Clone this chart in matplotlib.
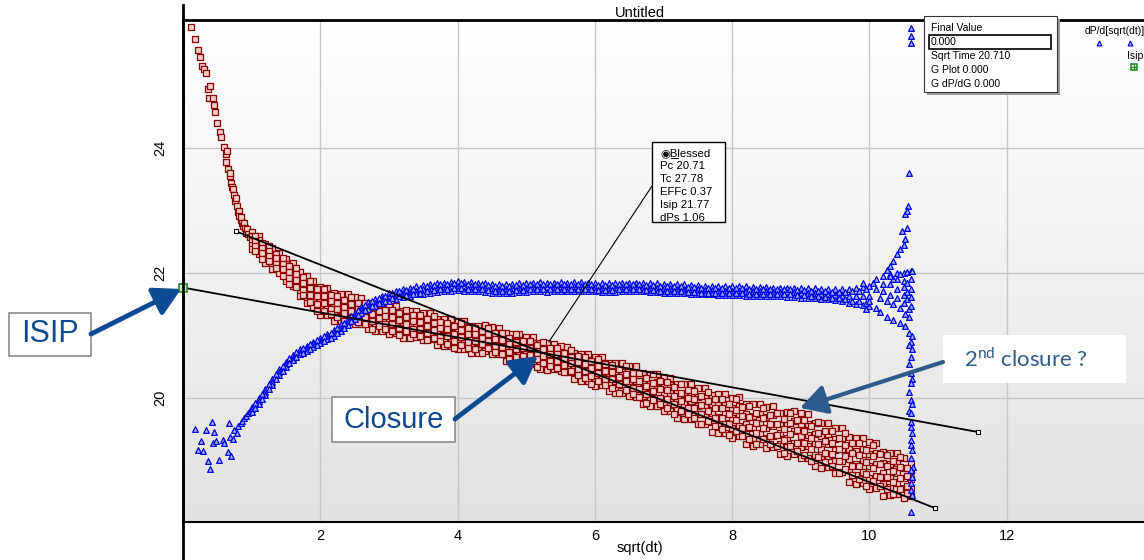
import numpy as np
import matplotlib
matplotlib.use("Agg")
import matplotlib.pyplot as plt
from matplotlib.colors import LinearSegmentedColormap
from matplotlib.patches import Rectangle, FancyArrowPatch
from matplotlib.lines import Line2D

plt.rcParams['font.family'] = ['Liberation Sans', 'DejaVu Sans']
plt.rcParams['mathtext.fontset'] = 'custom'
plt.rcParams['mathtext.rm'] = 'Lato'

#------------------------ data ------------------------
# pressure (red squares): steep early part
red_head_x = [0.12, 0.17, 0.22, 0.25, 0.28, 0.30, 0.33, 0.36, 0.39, 0.38, 0.44, 0.45, 0.46, 0.49,
              0.54, 0.55, 0.60, 0.62, 0.64, 0.63, 0.66, 0.68, 0.69, 0.70, 0.72, 0.73, 0.74, 0.76,
              0.77, 0.78, 0.80, 0.81, 0.82, 0.84, 0.85, 0.86, 0.88, 0.89, 0.90, 0.92, 0.93, 0.95, 0.97]
red_head_y = [25.94, 25.74, 25.57, 25.46, 25.31, 25.26, 25.20, 24.94, 25.00, 24.80, 24.80, 24.69, 24.58, 24.40,
              24.26, 24.18, 24.02, 23.90, 23.95, 23.78, 23.66, 23.55, 23.60, 23.45, 23.38, 23.35, 23.25, 23.15,
              23.20, 23.08, 22.98, 23.00, 22.92, 22.85, 22.90, 22.80, 22.75, 22.80, 22.72, 22.65, 22.70, 22.62, 22.58]

# pressure (red squares): main band, one column of readings per sqrt(dt) value
red_band_x = [1.0, 1.1, 1.2, 1.3, 1.4, 1.5, 1.6, 1.7, 1.8, 1.9,
              2.0, 2.1, 2.2, 2.3, 2.4, 2.5, 2.6, 2.7, 2.8, 2.9,
              3.0, 3.1, 3.2, 3.3, 3.4, 3.5, 3.6, 3.7, 3.8, 3.9,
              4.0, 4.1, 4.2, 4.3, 4.4, 4.5, 4.6, 4.7, 4.8, 4.9,
              5.0, 5.1, 5.2, 5.3, 5.4, 5.5, 5.6, 5.7, 5.8, 5.9,
              6.0, 6.1, 6.2, 6.3, 6.4, 6.5, 6.6, 6.7, 6.8, 6.9,
              7.0, 7.1, 7.2, 7.3, 7.4, 7.5, 7.6, 7.7, 7.8, 7.9,
              8.0, 8.1, 8.2, 8.3, 8.4, 8.5, 8.6, 8.7, 8.8, 8.9,
              9.0, 9.1, 9.2, 9.3, 9.4, 9.5, 9.6, 9.7, 9.8, 9.9,
              10.0, 10.1, 10.2, 10.3, 10.4, 10.5, 10.6]
red_band_y = [
    [22.66, 22.59, 22.52, 22.45, 22.38], [22.60, 22.53, 22.45, 22.38, 22.30], [22.47, 22.39, 22.32, 22.24, 22.16],
    [22.40, 22.30, 22.20, 22.13, 22.07], [22.33, 22.25, 22.17, 22.08, 22.00], [22.23, 22.14, 22.05, 21.96, 21.87],
    [22.16, 22.08, 21.98, 21.89, 21.79], [22.02, 21.92, 21.83, 21.73, 21.63], [21.95, 21.83, 21.70, 21.61, 21.53],
    [21.88, 21.77, 21.67, 21.57, 21.46], [21.78, 21.66, 21.55, 21.44, 21.33], [21.77, 21.67, 21.56, 21.45, 21.33],
    [21.68, 21.56, 21.47, 21.36, 21.24], [21.67, 21.55, 21.41, 21.31, 21.23], [21.66, 21.55, 21.45, 21.35, 21.24],
    [21.62, 21.51, 21.40, 21.29, 21.18], [21.61, 21.52, 21.41, 21.30, 21.19], [21.52, 21.41, 21.32, 21.21, 21.10],
    [21.52, 21.40, 21.26, 21.16, 21.08], [21.52, 21.40, 21.31, 21.19, 21.08], [21.48, 21.36, 21.25, 21.14, 21.03],
    [21.48, 21.38, 21.27, 21.16, 21.04], [21.39, 21.28, 21.19, 21.08, 20.96], [21.40, 21.28, 21.14, 21.04, 20.96],
    [21.40, 21.29, 21.19, 21.09, 20.98], [21.37, 21.26, 21.15, 21.04, 20.93], [21.36, 21.27, 21.16, 21.05, 20.94],
    [21.27, 21.16, 21.07, 20.96, 20.85], [21.27, 21.15, 21.01, 20.91, 20.83], [21.27, 21.15, 21.05, 20.94, 20.83],
    [21.23, 21.11, 21.00, 20.89, 20.78], [21.23, 21.13, 21.02, 20.91, 20.79], [21.15, 21.04, 20.95, 20.83, 20.72],
    [21.16, 21.04, 20.90, 20.80, 20.72], [21.17, 21.06, 20.96, 20.86, 20.75], [21.14, 21.03, 20.92, 20.81, 20.70],
    [21.13, 21.04, 20.93, 20.82, 20.71], [21.04, 20.92, 20.83, 20.71, 20.60], [21.03, 20.91, 20.77, 20.67, 20.58],
    [21.02, 20.91, 20.81, 20.69, 20.58], [20.98, 20.87, 20.75, 20.63, 20.52], [20.98, 20.88, 20.77, 20.66, 20.54],
    [20.88, 20.77, 20.68, 20.57, 20.46], [20.88, 20.76, 20.63, 20.54, 20.45], [20.87, 20.77, 20.67, 20.57, 20.47],
    [20.83, 20.73, 20.63, 20.53, 20.43], [20.82, 20.73, 20.62, 20.52, 20.42], [20.73, 20.62, 20.53, 20.42, 20.31],
    [20.71, 20.59, 20.46, 20.37, 20.28], [20.71, 20.60, 20.50, 20.38, 20.27], [20.66, 20.55, 20.43, 20.31, 20.20],
    [20.66, 20.56, 20.44, 20.32, 20.21], [20.57, 20.45, 20.34, 20.23, 20.11], [20.56, 20.42, 20.28, 20.17, 20.08],
    [20.56, 20.44, 20.33, 20.21, 20.08], [20.51, 20.39, 20.27, 20.15, 20.03], [20.51, 20.40, 20.27, 20.15, 20.02],
    [20.40, 20.27, 20.16, 20.03, 19.91], [20.39, 20.25, 20.09, 19.98, 19.88], [20.39, 20.26, 20.14, 20.01, 19.87],
    [20.34, 20.21, 20.07, 19.94, 19.80], [20.33, 20.21, 20.08, 19.94, 19.80], [20.22, 20.08, 19.96, 19.82, 19.68],
    [20.23, 20.07, 19.90, 19.77, 19.66], [20.22, 20.08, 19.95, 19.81, 19.67], [20.17, 20.02, 19.88, 19.74, 19.59],
    [20.17, 20.04, 19.89, 19.74, 19.59], [20.05, 19.90, 19.77, 19.62, 19.46], [20.06, 19.89, 19.70, 19.56, 19.44],
    [20.06, 19.91, 19.77, 19.61, 19.45], [20.01, 19.85, 19.69, 19.53, 19.37], [20.02, 19.88, 19.71, 19.55, 19.39],
    [19.90, 19.74, 19.59, 19.43, 19.27], [19.90, 19.72, 19.52, 19.37, 19.24], [19.91, 19.74, 19.60, 19.43, 19.27],
    [19.86, 19.70, 19.53, 19.36, 19.20], [19.88, 19.73, 19.56, 19.39, 19.22], [19.77, 19.59, 19.44, 19.27, 19.10],
    [19.78, 19.59, 19.37, 19.22, 19.08], [19.80, 19.63, 19.47, 19.29, 19.11], [19.76, 19.58, 19.40, 19.22, 19.04],
    [19.75, 19.59, 19.41, 19.23, 19.05], [19.61, 19.43, 19.27, 19.09, 18.91], [19.60, 19.40, 19.18, 19.02, 18.88],
    [19.60, 19.42, 19.26, 19.08, 18.90], [19.53, 19.35, 19.17, 18.99, 18.81], [19.52, 19.36, 19.18, 18.99, 18.82],
    [19.38, 19.19, 19.03, 18.85, 18.66], [19.37, 19.16, 18.94, 18.77, 18.63], [19.37, 19.18, 19.01, 18.82, 18.64],
    [19.30, 19.11, 18.92, 18.73, 18.54], [19.29, 19.13, 18.94, 18.76, 18.57], [19.14, 18.96, 18.80, 18.62, 18.44],
    [19.13, 18.94, 18.73, 18.58, 18.45], [19.12, 18.96, 18.81, 18.64, 18.47], [19.05, 18.89, 18.73, 18.57, 18.41],
    [18.95, 18.83, 18.70, 18.56, 18.43]]

# pressure: readings in between the columns above
red_mid_x = [1.05, 1.15, 1.25, 1.35, 1.45, 1.55, 1.65, 1.75, 1.85, 1.95,
             2.05, 2.15, 2.25, 2.35, 2.45, 2.55, 2.65, 2.75, 2.85, 2.95,
             3.05, 3.15, 3.25, 3.35, 3.45, 3.55, 3.65, 3.75, 3.85, 3.95,
             4.05, 4.15, 4.25, 4.35, 4.45, 4.55, 4.65, 4.75, 4.85, 4.95,
             5.05, 5.15, 5.25, 5.35, 5.45, 5.55, 5.65, 5.75, 5.85, 5.95,
             6.05, 6.15, 6.25, 6.35, 6.45, 6.55, 6.65, 6.75, 6.85, 6.95,
             7.05, 7.15, 7.25, 7.35, 7.45, 7.55, 7.65, 7.75, 7.85, 7.95,
             8.05, 8.15, 8.25, 8.35, 8.45, 8.55, 8.65, 8.75, 8.85, 8.95,
             9.05, 9.15, 9.25, 9.35, 9.45, 9.55, 9.65, 9.75, 9.85, 9.95,
             10.05, 10.15, 10.25, 10.35, 10.45, 10.55]
red_mid_y = [
    [22.59, 22.51, 22.44, 22.36], [22.48, 22.40, 22.32, 22.23], [22.44, 22.36, 22.28, 22.19], [22.31, 22.24, 22.14, 22.08],
    [22.24, 22.15, 22.06, 21.96], [22.11, 22.02, 21.93, 21.83], [22.08, 21.99, 21.89, 21.78], [21.94, 21.85, 21.73, 21.65],
    [21.87, 21.76, 21.65, 21.54], [21.74, 21.63, 21.51, 21.39], [21.74, 21.63, 21.52, 21.39], [21.65, 21.55, 21.43, 21.34],
    [21.64, 21.53, 21.42, 21.30], [21.57, 21.46, 21.36, 21.23], [21.62, 21.51, 21.40, 21.28], [21.53, 21.43, 21.31, 21.22],
    [21.52, 21.41, 21.30, 21.18], [21.46, 21.35, 21.23, 21.11], [21.50, 21.39, 21.28, 21.15], [21.41, 21.31, 21.19, 21.10],
    [21.41, 21.30, 21.19, 21.07], [21.36, 21.25, 21.13, 21.01], [21.41, 21.30, 21.19, 21.07], [21.33, 21.23, 21.11, 21.02],
    [21.33, 21.22, 21.11, 20.99], [21.26, 21.15, 21.05, 20.93], [21.31, 21.20, 21.09, 20.97], [21.22, 21.12, 21.00, 20.91],
    [21.21, 21.10, 20.99, 20.87], [21.15, 21.03, 20.92, 20.80], [21.20, 21.09, 20.98, 20.85], [21.12, 21.02, 20.90, 20.81],
    [21.13, 21.02, 20.91, 20.79], [21.07, 20.96, 20.86, 20.73], [21.13, 21.03, 20.92, 20.80], [21.05, 20.95, 20.83, 20.74],
    [21.04, 20.93, 20.82, 20.70], [20.97, 20.86, 20.74, 20.62], [21.02, 20.90, 20.79, 20.66], [20.92, 20.81, 20.68, 20.59],
    [20.92, 20.80, 20.69, 20.56], [20.85, 20.73, 20.62, 20.50], [20.90, 20.79, 20.68, 20.56], [20.80, 20.71, 20.59, 20.51],
    [20.80, 20.70, 20.60, 20.48], [20.73, 20.63, 20.53, 20.42], [20.77, 20.66, 20.56, 20.44], [20.67, 20.58, 20.46, 20.37],
    [20.66, 20.55, 20.44, 20.32], [20.59, 20.48, 20.36, 20.23], [20.63, 20.51, 20.40, 20.27], [20.54, 20.43, 20.30, 20.21],
    [20.53, 20.42, 20.30, 20.17], [20.46, 20.34, 20.22, 20.08], [20.51, 20.39, 20.27, 20.13], [20.41, 20.31, 20.17, 20.07],
    [20.41, 20.28, 20.15, 20.02], [20.33, 20.20, 20.07, 19.93], [20.38, 20.25, 20.12, 19.97], [20.27, 20.15, 20.00, 19.90],
    [20.26, 20.13, 19.99, 19.84], [20.18, 20.04, 19.90, 19.75], [20.23, 20.09, 19.95, 19.80], [20.13, 20.00, 19.85, 19.74],
    [20.12, 19.98, 19.84, 19.68], [20.04, 19.89, 19.75, 19.59], [20.10, 19.95, 19.80, 19.64], [19.98, 19.85, 19.68, 19.56],
    [19.99, 19.84, 19.68, 19.51], [19.91, 19.75, 19.59, 19.41], [19.98, 19.81, 19.65, 19.47], [19.86, 19.71, 19.53, 19.40],
    [19.87, 19.70, 19.54, 19.35], [19.77, 19.61, 19.44, 19.26], [19.85, 19.69, 19.52, 19.34], [19.73, 19.59, 19.40, 19.27],
    [19.76, 19.59, 19.41, 19.23], [19.67, 19.50, 19.33, 19.13], [19.77, 19.60, 19.42, 19.23], [19.65, 19.49, 19.29, 19.15],
    [19.65, 19.47, 19.29, 19.09], [19.55, 19.37, 19.19, 18.99], [19.62, 19.44, 19.26, 19.06], [19.48, 19.32, 19.12, 18.98],
    [19.47, 19.29, 19.11, 18.91], [19.36, 19.18, 19.00, 18.80], [19.44, 19.25, 19.07, 18.87], [19.29, 19.12, 18.92, 18.77],
    [19.28, 19.09, 18.91, 18.70], [19.17, 18.98, 18.79, 18.59], [19.25, 19.07, 18.88, 18.67], [19.10, 18.94, 18.74, 18.60],
    [19.09, 18.92, 18.74, 18.55], [19.00, 18.83, 18.66, 18.47], [19.06, 18.90, 18.73, 18.55], [18.89, 18.76, 18.59, 18.48]]

# derivative dP/d[sqrt(dt)] (blue triangles): noisy start
blue_head_x = [0.17, 0.22, 0.26, 0.29, 0.33, 0.36, 0.39, 0.42, 0.44, 0.45, 0.48, 0.52, 0.58, 0.60,
               0.65, 0.67, 0.68, 0.70, 0.73, 0.74, 0.78, 0.80, 0.84, 0.86, 0.89, 0.92, 0.95, 0.97]
blue_head_y = [19.50, 19.17, 19.31, 19.15, 19.49, 18.99, 18.86, 19.62, 19.28, 19.46, 19.31, 19.01, 19.33, 19.28,
               19.14, 19.60, 19.38, 19.07, 19.34, 19.49, 19.45, 19.55, 19.60, 19.64, 19.68, 19.72, 19.76, 19.80]

# derivative: main curve, readings per column (same sqrt(dt) columns as the pressure band)
blue_band_y = [
    [19.86, 19.82, 19.78], [20.00, 19.95, 19.91], [20.14, 20.10, 20.05], [20.30, 20.26, 20.21], [20.46, 20.42, 20.37],
    [20.58, 20.54, 20.50], [20.69, 20.65, 20.61], [20.78, 20.74, 20.70], [20.84, 20.80, 20.76], [20.90, 20.86, 20.82],
    [20.96, 20.92, 20.88], [21.02, 20.98, 20.94], [21.09, 21.05, 21.00], [21.18, 21.13, 21.08], [21.27, 21.22, 21.17],
    [21.37, 21.32, 21.27], [21.46, 21.41, 21.36], [21.54, 21.48, 21.42], [21.59, 21.53, 21.47], [21.64, 21.58, 21.52],
    [21.68, 21.62, 21.56], [21.71, 21.65, 21.59], [21.74, 21.68, 21.62], [21.77, 21.70, 21.64], [21.79, 21.72, 21.66],
    [21.81, 21.74, 21.67], [21.83, 21.76, 21.69], [21.84, 21.77, 21.70], [21.85, 21.78, 21.71], [21.86, 21.79, 21.72],
    [21.87, 21.80, 21.73], [21.86, 21.79, 21.72], [21.86, 21.79, 21.71], [21.85, 21.78, 21.71], [21.84, 21.77, 21.70],
    [21.83, 21.76, 21.69], [21.82, 21.75, 21.68], [21.82, 21.75, 21.68], [21.83, 21.76, 21.69], [21.84, 21.77, 21.70],
    [21.85, 21.77, 21.70], [21.85, 21.78, 21.71], [21.86, 21.78, 21.71], [21.85, 21.78, 21.70], [21.85, 21.78, 21.71],
    [21.86, 21.78, 21.71], [21.85, 21.78, 21.71], [21.86, 21.79, 21.72], [21.86, 21.79, 21.72], [21.85, 21.78, 21.71],
    [21.85, 21.78, 21.71], [21.84, 21.77, 21.70], [21.84, 21.77, 21.70], [21.84, 21.77, 21.70], [21.85, 21.78, 21.71],
    [21.85, 21.78, 21.71], [21.85, 21.78, 21.71], [21.85, 21.78, 21.71], [21.84, 21.77, 21.70], [21.84, 21.77, 21.70],
    [21.83, 21.76, 21.69], [21.83, 21.76, 21.69], [21.82, 21.75, 21.68], [21.82, 21.75, 21.68], [21.81, 21.74, 21.67],
    [21.81, 21.74, 21.67], [21.80, 21.73, 21.66], [21.80, 21.73, 21.66], [21.79, 21.72, 21.65], [21.79, 21.72, 21.65],
    [21.79, 21.72, 21.65], [21.79, 21.72, 21.65], [21.79, 21.72, 21.64], [21.78, 21.71, 21.64], [21.78, 21.71, 21.64],
    [21.78, 21.71, 21.63], [21.77, 21.70, 21.63], [21.77, 21.70, 21.63], [21.77, 21.70, 21.62], [21.77, 21.70, 21.62],
    [21.77, 21.69, 21.61], [21.76, 21.69, 21.61], [21.76, 21.68, 21.60], [21.75, 21.67, 21.59], [21.74, 21.66, 21.58],
    [21.74, 21.65, 21.57], [21.74, 21.64, 21.55], [21.75, 21.64, 21.53], [21.76, 21.63, 21.51], [21.78, 21.63, 21.49],
    [21.80, 21.64, 21.47]]

# derivative: readings in between (same x as red_mid_x up to 9.95)
blue_mid_y = [
    [19.92, 19.85], [20.07, 19.99], [20.22, 20.14], [20.38, 20.30], [20.52, 20.44], [20.64, 20.56], [20.74, 20.66],
    [20.81, 20.73], [20.87, 20.79], [20.93, 20.85], [20.99, 20.91], [21.05, 20.97], [21.13, 21.05], [21.21, 21.13],
    [21.31, 21.23], [21.41, 21.33], [21.49, 21.41], [21.55, 21.47], [21.60, 21.52], [21.64, 21.56], [21.68, 21.60],
    [21.71, 21.63], [21.73, 21.65], [21.75, 21.67], [21.77, 21.69], [21.79, 21.71], [21.81, 21.73], [21.82, 21.74],
    [21.83, 21.75], [21.84, 21.76], [21.84, 21.76], [21.83, 21.75], [21.83, 21.74], [21.82, 21.74], [21.81, 21.73],
    [21.80, 21.72], [21.79, 21.71], [21.80, 21.72], [21.81, 21.73], [21.81, 21.73], [21.82, 21.74], [21.82, 21.74],
    [21.82, 21.74], [21.82, 21.74], [21.82, 21.74], [21.82, 21.74], [21.83, 21.75], [21.83, 21.75], [21.82, 21.74],
    [21.82, 21.74], [21.81, 21.73], [21.81, 21.73], [21.81, 21.73], [21.82, 21.74], [21.82, 21.74], [21.82, 21.74],
    [21.82, 21.74], [21.81, 21.73], [21.81, 21.73], [21.80, 21.72], [21.80, 21.72], [21.79, 21.71], [21.79, 21.71],
    [21.78, 21.70], [21.78, 21.70], [21.77, 21.69], [21.77, 21.69], [21.76, 21.68], [21.76, 21.68], [21.76, 21.68],
    [21.76, 21.68], [21.76, 21.68], [21.75, 21.67], [21.75, 21.67], [21.75, 21.67], [21.74, 21.66], [21.74, 21.66],
    [21.74, 21.66], [21.74, 21.66], [21.73, 21.65], [21.73, 21.65], [21.72, 21.64], [21.71, 21.63], [21.71, 21.62],
    [21.70, 21.61], [21.70, 21.60], [21.70, 21.58], [21.71, 21.56], [21.72, 21.55], [21.74, 21.53]]

# derivative: fan and spike at the end of the test
blue_tail_x = [10.05, 10.1, 10.1, 10.15, 10.15, 10.2, 10.2, 10.25, 10.25, 10.3, 10.3, 10.3, 10.35, 10.35,
               10.4, 10.4, 10.4, 10.4, 10.45, 10.45, 10.5, 10.5, 10.5, 10.5, 10.5, 10.52, 10.52, 10.55,
               10.55, 10.55, 10.55, 10.57, 10.57, 10.6, 10.6, 10.6, 10.6, 10.6, 10.62, 10.45, 10.35, 9.95,
               9.9, 10.25, 10.3, 10.35, 10.4, 10.45, 10.5, 10.52, 10.48, 10.55, 10.52, 10.56, 10.55, 10.58,
               10.3, 10.2, 10.1, 10.0,
               10.58, 10.62, 10.6, 10.57, 10.62, 10.6, 10.57, 10.6, 10.62, 10.6, 10.58, 10.6, 10.62, 10.58,
               10.6, 10.61, 10.6, 10.62, 10.6, 10.61, 10.62, 10.6, 10.63, 10.6, 10.62, 10.61, 10.6, 10.62,
               10.6, 10.6, 10.6, 10.6]
blue_tail_y = [21.85, 21.45, 21.90, 21.60, 21.38, 21.95, 21.72, 21.55, 21.30, 21.98, 21.82, 21.65, 21.50, 21.25,
               22.00, 21.90, 21.75, 21.60, 21.45, 21.20, 22.00, 21.88, 21.78, 21.65, 21.52, 21.35, 21.15, 22.02,
               21.85, 21.70, 21.58, 21.42, 21.30, 22.03, 21.90, 21.75, 21.62, 21.48, 22.03, 21.98, 21.90, 21.42,
               21.85, 22.05, 22.12, 22.20, 22.30, 22.38, 22.45, 22.55, 22.67, 22.73, 22.95, 23.07, 23.00, 23.60,
               21.95, 21.83, 21.75, 21.55,
               21.04, 21.00, 20.90, 20.85, 20.78, 20.66, 20.55, 20.40, 20.30, 20.24, 20.10, 19.97, 19.90, 19.80,
               19.76, 19.62, 19.54, 19.45, 19.33, 19.25, 19.17, 19.05, 18.90, 18.85, 18.74, 18.65, 18.53, 18.45,
               18.18, 25.92, 25.80, 25.68]

# straight-line fits
isip_line_x = [0.0, 11.58]
isip_line_y = [21.77, 19.46]
closure_line_x = [0.77, 10.96]
closure_line_y = [22.67, 18.24]
pick_x, pick_y = 5.33, 20.90

x_ticks = [2, 4, 6, 8, 10, 12]
y_ticks = [20, 22, 24]

blessed_lines = ["\u25c9Blessed", "Pc 20.71", "Tc 27.78", "EFFc 0.37", "Isip 21.77", "dPs 1.06"]
final_lines = ["Final Value", "0.000", "Sqrt Time 20.710", "G Plot 0.000", "G dP/dG 0.000"]

#------------------------ figure ------------------------
W, H = 1144, 560
fig = plt.figure(figsize=(W / 100, H / 100), dpi=100)
ax = fig.add_axes([183 / W, 1 - 522 / H, 1 - 183 / W, (522 - 20) / H])

def fx(px):
    return px / W

def fy(py):
    return 1 - py / H

# gradient background
bg = LinearSegmentedColormap.from_list('bg', ['#ffffff', '#e2e2e2'])
ax.imshow(np.linspace(0, 1, 256).reshape(-1, 1), cmap=bg, extent=[0, 14, 18.02, 26.05],
          aspect='auto', zorder=0)
ax.set_xlim(0, 14)
ax.set_ylim(18.02, 26.05)
ax.set_xticks(x_ticks)
ax.set_yticks(y_ticks)
ax.grid(color='#c6c6c6', lw=1, zorder=1)
ax.tick_params(length=0, labelsize=10.5)
ax.tick_params(axis='x', pad=5)
ax.tick_params(axis='y', pad=11)
for lab in ax.get_yticklabels():
    lab.set_rotation(90)
    lab.set_va('center')
ax.spines['right'].set_visible(False)
ax.spines['top'].set_linewidth(2)
ax.spines['left'].set_linewidth(2)
ax.spines['bottom'].set_linewidth(1.5)

def flatten(xs, cols):
    px = [x for x, col in zip(xs, cols) for _ in col]
    py = [y for col in cols for y in col]
    return px, py

# red pressure squares
red_sq = dict(marker='s', s=15, facecolors='#f2cccc', edgecolors='#8b0000', linewidths=0.9, zorder=3)
ax.scatter(red_head_x, red_head_y, **red_sq)
ax.scatter(*flatten(red_band_x, red_band_y), **red_sq)
ax.scatter(*flatten(red_mid_x, red_mid_y), **red_sq)

# blue derivative triangles
blue_tri = dict(marker='^', s=17, facecolors='#9fb2ff', edgecolors='#0000e6', linewidths=0.9, zorder=4,
                clip_on=False)
ax.scatter(blue_head_x, blue_head_y, **blue_tri)
ax.scatter(*flatten(red_band_x, blue_band_y), **blue_tri)
ax.scatter(*flatten(red_mid_x, blue_mid_y), **blue_tri)
ax.scatter(blue_tail_x, blue_tail_y, **blue_tri)

# fitted lines
ax.plot(isip_line_x, isip_line_y, color='black', lw=1.3, zorder=5)
ax.plot(closure_line_x, closure_line_y, color='black', lw=1.3, zorder=5)
ax.plot([isip_line_x[1], closure_line_x[0], closure_line_x[1]],
        [isip_line_y[1], closure_line_y[0], closure_line_y[1]],
        ls='none', marker='s', ms=3.5, mfc='white', mec='black', mew=0.8, zorder=6)
ax.plot(isip_line_x[0], isip_line_y[0], marker='s', ms=6, mfc='#cfeacc', mec='#1f8a1f', mew=1.2,
        zorder=7, clip_on=False)

# pick line from the Blessed box
ax.annotate('', xy=(pick_x, pick_y), xycoords='data', xytext=(fx(652), fy(186)),
            textcoords='figure fraction',
            arrowprops=dict(arrowstyle='-', color='black', lw=0.8, shrinkA=0, shrinkB=0), zorder=6)

# long left axis line above/below plot
fig.add_artist(Line2D([fx(183), fx(183)], [0, fy(5)], color='black', lw=2))

# title and axis label
fig.text(fx(640), fy(13), 'Untitled', ha='center', va='center', fontsize=10.5)
fig.text(fx(640), fy(548), 'sqrt(dt)', ha='center', va='center', fontsize=10.5)

# Blessed box
fig.add_artist(Rectangle((fx(652), fy(222)), 73 / W, 80 / H, transform=fig.transFigure,
                         facecolor='white', edgecolor='black', lw=1, zorder=10))
for i, t in enumerate(blessed_lines):
    fig.text(fx(660), fy(153 + 13 * i), t, ha='left', va='center', fontsize=8.2, zorder=11)
fig.add_artist(Line2D([fx(671), fx(678)], [fy(158), fy(158)], color='black', lw=0.7, zorder=11))

# Final Value box with shadow
fig.add_artist(Rectangle((fx(927), fy(95)), 133 / W, 76 / H, transform=fig.transFigure,
                         facecolor='#9a9a9a', edgecolor='none', zorder=9))
fig.add_artist(Rectangle((fx(924), fy(92)), 133 / W, 76 / H, transform=fig.transFigure,
                         facecolor='white', edgecolor='#333333', lw=0.8, zorder=10))
fig.add_artist(Rectangle((fx(929), fy(49)), 122 / W, 14 / H, transform=fig.transFigure,
                         facecolor='white', edgecolor='black', lw=1.2, zorder=11))
for i, t in enumerate(final_lines):
    fig.text(fx(931), fy(28 + 14 * i), t, ha='left', va='center', fontsize=7.5, zorder=12)

# legend fragments at the right edge
fig.text(fx(1085), fy(31), 'dP/d[sqrt(dt)]', ha='left', va='center', fontsize=7.5)
fig.text(fx(1127), fy(56), 'Isip', ha='left', va='center', fontsize=7.5)
fig.add_artist(Line2D([fx(1099), fx(1130)], [fy(43), fy(43)], ls='none', marker='^', ms=3.5,
                      mfc='#9fb2ff', mec='#0000e6', mew=0.8))
fig.add_artist(Line2D([fx(1134)], [fy(67)], ls='none', marker='s', ms=5, mfc='#cfeacc',
                      mec='#1f8a1f', mew=1.1))
fig.add_artist(Line2D([fx(1134)], [fy(67)], ls='none', marker='+', ms=5, mec='#1f8a1f', mew=0.8))

# callouts
dark_blue = '#0d4a94'
steel = '#2d5b8c'

def callout(x0, y0, x1, y1, text, size, color, edge, family=None, tx=None):
    fig.add_artist(Rectangle((fx(x0), fy(y1)), (x1 - x0) / W, (y1 - y0) / H, transform=fig.transFigure,
                             facecolor='white', edgecolor=edge, lw=1.2, zorder=12))
    if tx is None:
        tx = (x0 + x1) / 2
    fig.text(fx(tx), fy((y0 + y1) / 2), text, ha='center', va='center', fontsize=size,
             color=color, zorder=13, family=family)

def arrow(xa, ya, xb, yb, color, lw):
    fig.add_artist(FancyArrowPatch(
        (fx(xa), fy(ya)), (fx(xb), fy(yb)), transform=fig.transFigure,
        arrowstyle='-|>,head_length=0.9,head_width=0.5', mutation_scale=18,
        color=color, lw=lw, shrinkA=0, shrinkB=0, zorder=12))

callout(9, 313, 91, 356, 'ISIP', 22, dark_blue, '#8c8c8c')
arrow(91, 334, 181, 289, dark_blue, 3.5)
callout(332, 397, 455, 442, 'Closure', 21, dark_blue, '#8c8c8c')
arrow(455, 419, 538, 356, dark_blue, 3.5)
callout(943, 335, 1126, 383, '2$^{\\mathrm{nd}}$ closure ?', 16, steel, 'none', family='Lato', tx=1026)
arrow(943, 362, 800, 408, steel, 3)

plt.savefig('out.png', dpi=100)
